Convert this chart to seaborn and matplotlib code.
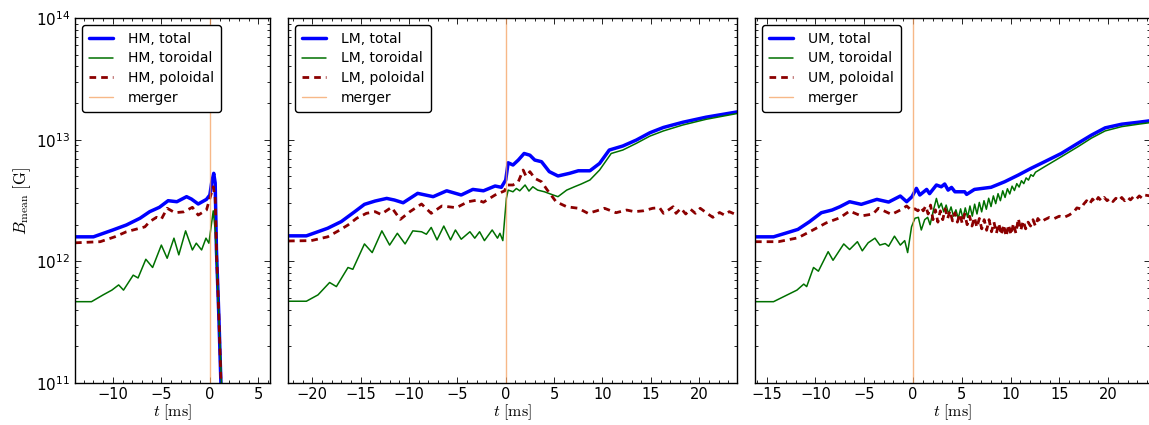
import matplotlib
matplotlib.use("Agg")
import matplotlib.pyplot as plt
import seaborn as sns
import pandas as pd
from matplotlib.ticker import MultipleLocator, LogLocator, NullFormatter

# ---------------- data (B in units of 1e12 G, t in ms) ----------------
hm_total_t = [-13.9, -12.0, -10.0, -8.6, -7.2, -6.2, -5.2, -4.3, -3.4, -2.4, -1.9, -1.2, -0.35, 0.0, 0.2, 0.4, 0.55, 0.68, 0.93, 1.13, 1.3]
hm_total_b = [1.59, 1.59, 1.81, 1.99, 2.26, 2.56, 2.78, 3.15, 3.09, 3.40, 3.25, 2.96, 3.23, 3.51, 4.5, 5.29, 4.4, 1.24, 0.35, 0.106, 0.05]

hm_tor_t = [-13.9, -12.2, -11.0, -10.1, -9.4, -8.9, -7.9, -7.4, -6.6, -5.9, -5.0, -4.4, -3.7, -3.2, -2.5, -1.8, -1.4, -0.85, -0.4, -0.1, 0.35, 0.55, 0.75, 1.0, 1.2, 1.3]
hm_tor_b = [0.466, 0.466, 0.53, 0.58, 0.64, 0.58, 0.77, 0.73, 1.04, 0.89, 1.36, 1.06, 1.55, 1.13, 1.78, 1.24, 1.41, 1.24, 1.55, 1.41, 2.60, 1.8, 0.8, 0.25, 0.1, 0.06]

hm_pol_t = [-13.9, -11.3, -9.8, -8.6, -6.7, -6.2, -5.5, -5.0, -4.4, -3.6, -2.7, -1.8, -1.2, -0.35, 0.35, 0.55, 0.7, 0.95, 1.15, 1.3]
hm_pol_b = [1.42, 1.45, 1.59, 1.75, 1.92, 2.12, 2.30, 2.22, 2.73, 2.51, 2.55, 2.78, 2.40, 2.64, 4.10, 3.3, 1.1, 0.32, 0.1, 0.05]

lm_total_t = [-22.5, -20.6, -18.4, -17.0, -15.6, -14.6, -13.5, -12.3, -11.5, -10.6, -9.1, -7.5, -6.1, -4.6, -3.4, -2.3, -1.1, -0.45, 0.0, 0.25, 0.75, 1.3, 1.9, 2.5, 3.0, 3.7, 4.5, 5.4, 6.6, 7.5, 8.7, 9.7, 10.7, 12.1, 13.5, 14.9, 16.3, 18.3, 20.7, 23.9]
lm_total_b = [1.62, 1.62, 1.87, 2.12, 2.56, 2.94, 3.13, 3.29, 3.19, 3.03, 3.62, 3.40, 3.80, 3.51, 3.90, 3.80, 4.16, 4.06, 4.66, 6.46, 6.19, 6.80, 7.70, 7.45, 6.80, 6.59, 5.46, 5.03, 5.29, 5.55, 5.55, 6.38, 8.22, 8.87, 9.93, 11.4, 12.6, 13.9, 15.3, 16.9]

lm_tor_t = [-22.5, -20.6, -19.4, -18.2, -17.5, -16.3, -15.8, -14.6, -13.8, -12.8, -12.0, -11.2, -10.4, -9.6, -8.7, -8.2, -7.7, -7.1, -6.4, -5.7, -5.2, -4.6, -3.7, -3.2, -2.7, -2.2, -1.4, -0.85, -0.6, -0.3, 0.07, 0.25, 0.75, 1.1, 1.45, 2.0, 2.4, 2.8, 3.3, 4.0, 4.9, 5.4, 6.3, 7.1, 7.8, 8.7, 9.7, 10.9, 12.1, 13.5, 14.9, 16.3, 18.3, 20.7, 23.9]
lm_tor_b = [0.47, 0.47, 0.53, 0.67, 0.62, 0.89, 0.86, 1.39, 1.18, 1.78, 1.36, 1.70, 1.39, 1.78, 1.75, 1.67, 1.90, 1.50, 1.95, 1.50, 1.81, 1.52, 1.75, 1.55, 1.75, 1.48, 1.81, 1.55, 1.70, 1.48, 3.30, 3.85, 3.73, 3.97, 3.80, 4.24, 3.78, 4.10, 3.85, 3.73, 3.51, 3.40, 3.85, 4.10, 4.32, 4.66, 5.63, 7.70, 8.22, 9.33, 10.7, 11.8, 13.2, 14.7, 16.4]

lm_pol_t = [-22.5, -20.1, -18.4, -17.3, -16.3, -15.4, -14.4, -13.5, -12.9, -11.8, -10.9, -9.9, -8.7, -7.7, -6.6, -5.1, -3.9, -2.9, -2.3, -1.1, -0.1, 0.07, 0.75, 1.3, 1.8, 2.1, 2.5, 3.0, 3.7, 4.3, 5.2, 6.3, 7.5, 8.5, 9.4, 10.2, 11.4, 12.5, 13.3, 14.2, 15.2, 15.9, 16.3, 16.8, 17.3, 17.6, 18.1, 18.6, 19.1, 19.6, 20.1, 20.9, 21.4, 22.1, 22.6, 23.1, 23.9]
lm_pol_b = [1.47, 1.48, 1.59, 1.78, 1.99, 2.26, 2.48, 2.56, 2.43, 2.78, 2.21, 2.56, 2.96, 2.48, 2.85, 2.76, 3.09, 3.19, 3.06, 3.51, 3.80, 4.24, 4.24, 4.51, 5.63, 5.0, 5.46, 4.81, 4.51, 3.85, 3.09, 2.81, 2.73, 2.48, 2.60, 2.73, 2.51, 2.64, 2.56, 2.60, 2.73, 2.76, 2.48, 2.64, 2.81, 2.48, 2.73, 2.45, 2.68, 2.48, 2.73, 2.45, 2.30, 2.52, 2.40, 2.56, 2.40]

um_total_t = [-16.2, -14.3, -13.1, -11.8, -10.6, -9.4, -8.3, -7.5, -6.5, -5.3, -3.7, -2.5, -1.3, -0.65, -0.1, 0.35, 0.7, 1.4, 1.7, 2.4, 2.9, 3.25, 3.6, 3.95, 4.3, 5.3, 5.5, 6.3, 8.0, 9.4, 10.8, 12.1, 13.5, 15.2, 16.9, 18.3, 19.7, 21.4, 23.1, 24.3]
um_total_b = [1.59, 1.59, 1.70, 1.83, 2.12, 2.51, 2.64, 2.81, 3.09, 2.94, 3.23, 3.07, 3.44, 3.09, 3.40, 3.98, 3.51, 3.90, 3.60, 4.24, 4.10, 4.32, 3.85, 4.05, 3.73, 3.73, 3.55, 3.90, 4.06, 4.51, 5.12, 5.81, 6.59, 7.70, 9.33, 10.9, 12.5, 13.4, 13.9, 14.3]

um_tor_t = [-16.2, -14.3, -13.1, -11.9, -11.2, -10.9, -10.2, -9.7, -8.7, -8.2, -7.1, -6.5, -5.7, -5.2, -4.6, -3.9, -3.4, -2.85, -2.5, -1.9, -1.3, -0.85, -0.55, -0.15, 0.2, 0.55, 0.85, 1.2, 1.5, 1.75, 2.1, 2.4, 2.65, 2.9, 3.15, 3.4, 3.65, 3.9, 4.15, 4.4, 4.64, 4.88, 5.12, 5.36, 5.6, 5.84, 6.08, 6.32, 6.56, 6.8, 7.04, 7.28, 7.52, 7.76, 8.0, 8.24, 8.48, 8.72, 8.96, 9.2, 9.44, 9.68, 9.92, 10.16, 10.4, 10.64, 10.88, 11.12, 11.36, 11.6, 11.84, 12.08, 12.32, 12.56, 13.5, 15.2, 16.9, 18.3, 19.7, 21.4, 23.1, 24.3]
um_tor_b = [0.466, 0.466, 0.52, 0.58, 0.65, 0.62, 0.89, 0.83, 1.20, 1.02, 1.39, 1.25, 1.45, 1.22, 1.42, 1.55, 1.36, 1.40, 1.33, 1.61, 1.36, 1.48, 1.18, 1.92, 2.26, 2.30, 1.81, 2.20, 2.30, 2.00, 2.64, 3.29, 2.75, 3.00, 2.55, 2.90, 2.45, 2.80, 2.35, 2.65, 2.25, 2.70, 2.25, 2.75, 2.30, 2.85, 2.35, 2.95, 2.45, 3.05, 2.55, 3.15, 2.68, 3.30, 2.82, 3.45, 2.98, 3.60, 3.15, 3.80, 3.35, 3.95, 3.58, 4.15, 3.82, 4.35, 4.08, 4.60, 4.35, 4.85, 4.65, 5.15, 5.00, 5.40, 6.00, 7.23, 8.74, 10.3, 11.8, 12.8, 13.4, 13.8]

um_pol_t = [-16.2, -13.8, -11.8, -10.6, -9.5, -8.9, -7.5, -6.5, -5.3, -4.1, -3.55, -2.2, -1.3, -0.65, -0.2, 0.2, 0.5, 0.8, 1.05, 1.3, 1.55, 1.8, 2.05, 2.3, 2.55, 2.8, 3.05, 3.3, 3.55, 3.8, 4.05, 4.3, 4.55, 4.8, 5.05, 5.3, 5.55, 5.8, 6.05, 6.3, 6.55, 6.8, 7.05, 7.3, 7.55, 7.8, 8.05, 8.3, 8.55, 8.8, 9.05, 9.3, 9.55, 9.8, 10.05, 10.3, 10.55, 10.8, 11.05, 11.3, 11.55, 11.8, 12.05, 12.3, 12.55, 12.8, 13.1, 13.5, 14.0, 14.5, 15.0, 15.5, 16.0, 16.5, 16.8, 17.2, 17.5, 17.8, 18.1, 18.4, 18.7, 19.0, 19.3, 19.6, 19.9, 20.2, 20.5, 20.8, 21.1, 21.4, 21.7, 22.0, 22.3, 22.6, 22.9, 23.2, 23.5, 23.8, 24.3]
um_pol_b = [1.45, 1.45, 1.56, 1.75, 1.95, 2.07, 2.28, 2.59, 2.36, 2.45, 2.73, 2.43, 2.64, 2.85, 2.64, 2.70, 2.60, 2.80, 2.60, 2.85, 2.45, 2.90, 2.20, 2.65, 2.10, 2.60, 2.20, 2.70, 2.25, 2.60, 2.15, 2.50, 2.10, 2.45, 2.05, 2.45, 2.00, 2.35, 1.95, 2.30, 1.90, 2.25, 1.85, 2.20, 1.80, 2.20, 1.75, 2.10, 1.70, 2.05, 1.65, 2.00, 1.60, 2.00, 1.65, 2.05, 1.70, 2.25, 1.80, 2.15, 1.85, 2.10, 1.95, 2.20, 1.95, 2.25, 2.10, 2.20, 2.30, 2.25, 2.35, 2.30, 2.40, 2.55, 2.75, 2.70, 2.95, 3.15, 2.95, 3.25, 3.05, 3.35, 3.15, 3.35, 3.15, 3.30, 3.10, 3.30, 3.15, 3.35, 3.15, 3.35, 3.20, 3.40, 3.25, 3.45, 3.30, 3.50, 3.45]

panels = ["HM", "LM", "UM"]
xlims = [(-13.9, 6.2), (-22.5, 23.9), (-16.2, 24.3)]
unit = 1e12

series = {
    "HM": [(hm_total_t, hm_total_b), (hm_tor_t, hm_tor_b), (hm_pol_t, hm_pol_b)],
    "LM": [(lm_total_t, lm_total_b), (lm_tor_t, lm_tor_b), (lm_pol_t, lm_pol_b)],
    "UM": [(um_total_t, um_total_b), (um_tor_t, um_tor_b), (um_pol_t, um_pol_b)],
}

# ---------------- style ----------------
sns.set_style("ticks")
plt.rcParams.update({
    "font.family": ["DejaVu Sans"],
    "text.color": "black", "axes.labelcolor": "black",
    "xtick.direction": "in", "ytick.direction": "in",
    "xtick.top": True, "ytick.right": True,
    "xtick.major.size": 4, "ytick.major.size": 4,
    "xtick.minor.size": 2, "ytick.minor.size": 2,
    "xtick.major.width": 0.6, "ytick.major.width": 0.6,
    "xtick.minor.width": 0.6, "ytick.minor.width": 0.6,
    "xtick.labelsize": 10.5, "ytick.labelsize": 11,
    "axes.linewidth": 1.0, "axes.edgecolor": "black",
    "xtick.color": "black", "ytick.color": "black",
    "xtick.labelcolor": "black", "ytick.labelcolor": "black",
})

W, H = 1149, 425
fig = plt.figure(figsize=(W / 100, H / 100), dpi=100)
boxes = [(75, 270), (288, 737), (755, 1150)]
top, bot = 18, 383

styles = [
    dict(color="#0000ff", lw=2.5, ls="-"),
    dict(color="#007000", lw=1.1, ls="-"),
    dict(color="#8b0000", lw=2.0, ls=(0, (2.4, 1.8))),
]
names = ["total", "toroidal", "poloidal"]

for i, (p, (l, r)) in enumerate(zip(panels, boxes)):
    ax = fig.add_axes([l / W, 1 - bot / H, (r - l) / W, (bot - top) / H])
    for (tt, bb), st, nm in zip(series[p], styles, names):
        df = pd.DataFrame({"t": tt, "B": [b * unit for b in bb]})
        sns.lineplot(data=df, x="t", y="B", ax=ax, estimator=None, sort=False,
                     color=st["color"], lw=st["lw"], linestyle=st["ls"],
                     label=f"{p}, {nm}")
    ax.axvline(0, color="#f5a060", alpha=0.75, lw=1.0, label="merger")
    ax.set_yscale("log")
    ax.set_ylim(1e11, 1e14)
    ax.set_xlim(*xlims[i])
    ax.xaxis.set_major_locator(MultipleLocator(5))
    ax.xaxis.set_minor_locator(MultipleLocator(1))
    ax.yaxis.set_minor_locator(LogLocator(base=10, subs=range(2, 10)))
    ax.yaxis.set_minor_formatter(NullFormatter())
    ax.tick_params(which="both", top=True, right=True, direction="in")
    ax.tick_params(axis="x", pad=3)
    ax.set_xlabel(r"$t\ [\mathrm{ms}]$", fontsize=11.5, math_fontfamily="cm", labelpad=0, color="black")
    if i == 0:
        ax.set_ylabel(r"$B_{\mathrm{mean}}\ [\mathrm{G}]$", fontsize=12, math_fontfamily="cm", labelpad=2, color="black")
    else:
        ax.set_ylabel("")
        ax.tick_params(axis="y", labelleft=False)
    leg = ax.legend(loc="upper left", fontsize=10, frameon=True, fancybox=True,
                    edgecolor="black", framealpha=1, borderaxespad=0.5,
                    handlelength=1.7, handletextpad=1.1, labelspacing=0.4, borderpad=0.5,
                    labelcolor="black")
    leg.get_frame().set_linewidth(1.0)
    for s in ax.spines.values():
        s.set_visible(True)

fig.savefig("out.png", dpi=100)
